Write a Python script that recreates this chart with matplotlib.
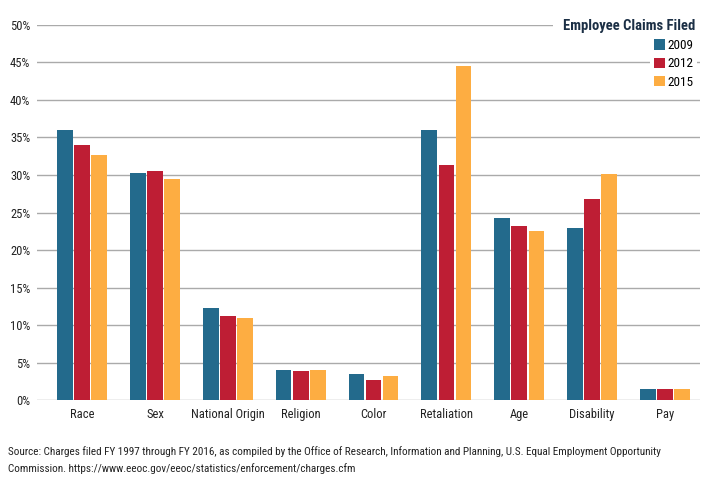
import numpy as np
import matplotlib
matplotlib.use('Agg')
import matplotlib.pyplot as plt
from matplotlib.font_manager import fontManager

# Data (% of claims filed)
categories = ['Race', 'Sex', 'National Origin', 'Religion', 'Color',
              'Retaliation', 'Age', 'Disability', 'Pay']
years = ['2009', '2012', '2015']
v2009 = [36.0, 30.3, 12.3, 4.0, 3.5, 36.0, 24.3, 22.9, 1.45]
v2012 = [34.0, 30.5, 11.2, 3.85, 2.65, 31.3, 23.2, 26.8, 1.45]
v2015 = [32.7, 29.5, 10.9, 4.0, 3.2, 44.5, 22.5, 30.1, 1.45]
yticks = [0, 5, 10, 15, 20, 25, 30, 35, 40, 45, 50]

colors = ['#236a8c', '#be1e34', '#fdad42']

# look for a narrow face, the original uses a condensed sans
fonts = [(f.name, f.stretch) for f in fontManager.ttflist]
fam, stretch = 'DejaVu Sans', 'normal'
for cand in ['Liberation Sans Narrow', 'Roboto Condensed', 'Open Sans Condensed']:
    if any(n == cand for n, _ in fonts):
        fam = cand
        break
else:
    for n, st in fonts:
        if n in ('DejaVu Sans', 'Noto Sans', 'Open Sans', 'Roboto') and 'condensed' in str(st):
            fam, stretch = n, 'condensed'
            break
plt.rcParams['font.family'] = [fam, 'DejaVu Sans']
plt.rcParams['font.stretch'] = stretch
narrow = fam != 'DejaVu Sans' or stretch != 'normal'
fs = 9 if narrow else 7.8

fig = plt.figure(figsize=(7.26, 4.87), dpi=100)
ax = fig.add_axes([0.051, 0.1786, 0.913, 0.7701])

x = np.arange(len(categories))
w = 0.215
for i, (vals, yr) in enumerate(zip([v2009, v2012, v2015], years)):
    ax.bar(x + (i - 1) * 0.235, vals, w, color=colors[i], label=yr, zorder=3)

ax.set_ylim(0, 50)
ax.set_xlim(-0.62, 8.48)
ax.set_yticks(yticks)
ax.set_yticklabels([f'{t}%' for t in yticks], fontsize=fs, color='#222222')
ax.set_xticks(x)
ax.set_xticklabels(categories, fontsize=fs, color='#222222')
ax.tick_params(length=0)
ax.tick_params(axis='y', pad=5)
ax.tick_params(axis='x', pad=6)
ax.grid(axis='y', color='#aaaaaa', linewidth=1.0, zorder=0)
ax.set_axisbelow(True)
for s in ax.spines.values():
    s.set_visible(False)

# legend with heading
ax.text(0.993, 0.997, 'Employee Claims Filed', transform=ax.transAxes,
        ha='right', va='center', fontsize=fs + 1.5, fontweight='bold', color='#1b2f45',
        bbox=dict(boxstyle='square,pad=0.7', facecolor='white', edgecolor='none'),
        zorder=5)
leg = ax.legend(loc='upper right', bbox_to_anchor=(1.0, 0.98), frameon=True,
                facecolor='white', edgecolor='none', framealpha=1, fontsize=fs + 0.5,
                handlelength=0.8, handleheight=0.8, handletextpad=0.2,
                labelspacing=0.4, borderpad=0.3, borderaxespad=0.2)
leg.set_zorder(5)

fig.text(0.011, 0.072,
         'Source: Charges filed FY 1997 through FY 2016, as compiled by the Office of Research, '
         'Information and Planning, U.S. Equal Employment Opportunity',
         fontsize=fs - 1.0, color='#222222', va='center')
fig.text(0.011, 0.037,
         'Commission. https://www.eeoc.gov/eeoc/statistics/enforcement/charges.cfm',
         fontsize=fs - 1.0, color='#222222', va='center')

fig.savefig('out.png', dpi=100)
